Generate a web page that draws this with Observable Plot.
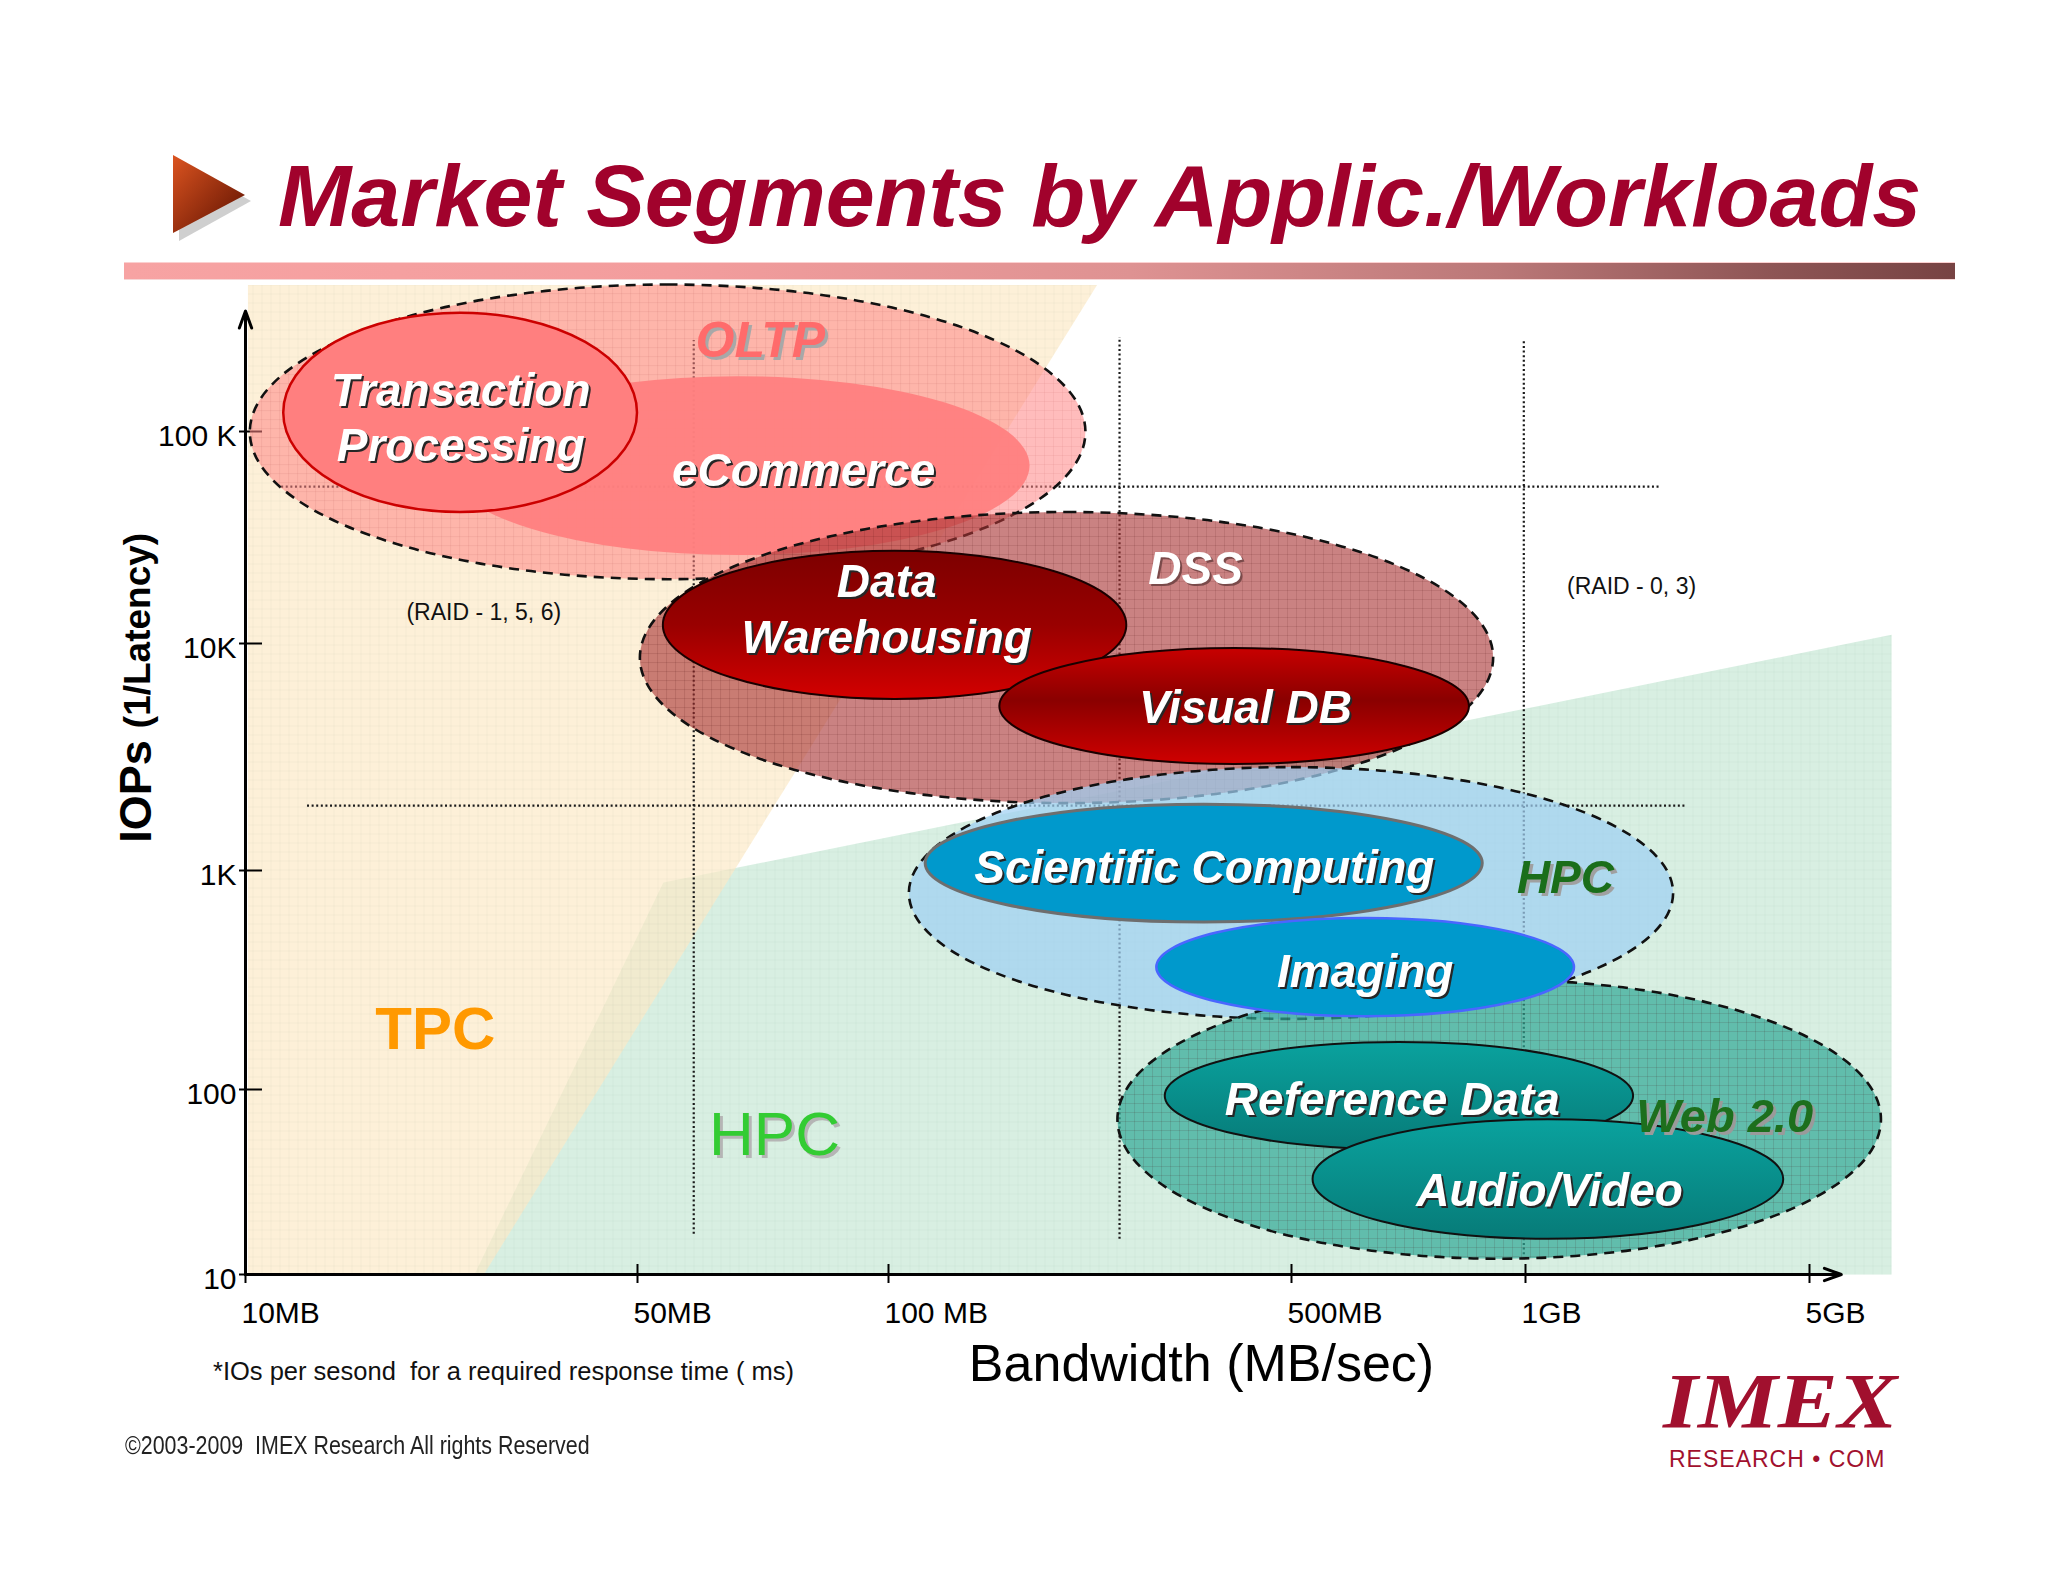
<!DOCTYPE html>
<html>
<head>
<meta charset="utf-8">
<script src="https://cdn.jsdelivr.net/npm/d3@7"></script>
<script src="https://cdn.jsdelivr.net/npm/@observablehq/plot@0.6"></script>
<style>
  html, body { margin: 0; padding: 0; background: #fff; }
  #page { position: relative; width: 2048px; height: 1582px; overflow: hidden; font-family: "Liberation Sans", Arial, sans-serif; }
  #title { position: absolute; left: 278px; top: 152px; margin: 0; font-size: 88px; line-height: 88px; font-weight: bold; font-style: italic; color: #a1022c; white-space: nowrap; }
  #bullet { position: absolute; left: 160px; top: 145px; }
  #bar { position: absolute; left: 124px; top: 263px; width: 1831px; height: 16px;
         background: linear-gradient(to right, #f7a3a3 0%, #f39d9d 30%, #de9292 55%, #bb7878 75%, #8e5555 90%, #774343 100%);
         box-shadow: 0 -1px 0 #fbd0d0, 0 1px 0 #f6d6d6; }
  #chart { position: absolute; left: 0; top: 284px; }
  #note { position: absolute; left: 213px; top: 1358px; font-size: 25.5px; line-height: 26px; white-space: pre; color: #111; }
  #copy { position: absolute; left: 125px; top: 1432px; font-size: 25.5px; line-height: 26px; white-space: pre; color: #222; transform: scaleX(0.84); transform-origin: left top; }
  #logo { position: absolute; left: 1663px; top: 1367px; font-family: "Liberation Serif", "DejaVu Serif", serif; font-size: 78px; line-height: 68px; height: 68px; font-weight: bold; font-style: italic; color: #a1102e; transform: scaleX(1.15); transform-origin: left top; }
  #logosub { position: absolute; left: 1669px; top: 1448px; font-size: 23px; line-height: 22px; color: #a1102e; white-space: pre; letter-spacing: 1px; }
</style>
</head>
<body>
<svg width="0" height="0" style="position:absolute">
  <defs>
    <pattern id="gridDark" width="9" height="9" patternUnits="userSpaceOnUse">
      <path d="M9 0H0V9" fill="none" stroke="rgba(60,0,0,0.22)" stroke-width="1"/>
    </pattern>
    <pattern id="gridWarm" width="9" height="9" patternUnits="userSpaceOnUse">
      <path d="M9 0H0V9" fill="none" stroke="rgba(170,40,40,0.13)" stroke-width="1"/>
    </pattern>
    <pattern id="gridFaint" width="9" height="9" patternUnits="userSpaceOnUse">
      <path d="M9 0H0V9" fill="none" stroke="rgba(0,60,40,0.06)" stroke-width="1"/>
    </pattern>
    <linearGradient id="redA" x1="0" y1="0" x2="0" y2="1">
      <stop offset="0" stop-color="#7d0000"/>
      <stop offset="0.5" stop-color="#990000"/>
      <stop offset="1" stop-color="#d40000"/>
    </linearGradient>
    <linearGradient id="redB" x1="0" y1="0" x2="0" y2="1">
      <stop offset="0" stop-color="#c80000"/>
      <stop offset="0.45" stop-color="#8a0000"/>
      <stop offset="1" stop-color="#d00000"/>
    </linearGradient>
    <linearGradient id="teal" x1="0" y1="0" x2="0" y2="1">
      <stop offset="0" stop-color="#0aa29e"/>
      <stop offset="1" stop-color="#077b78"/>
    </linearGradient>
    <linearGradient id="tri" x1="0" y1="0" x2="1" y2="1">
      <stop offset="0" stop-color="#dc5420"/>
      <stop offset="1" stop-color="#5a0f00"/>
    </linearGradient>
  </defs>
</svg>
<div id="page">
  <svg id="bullet" width="100" height="100">
    <polygon points="19,16 91,56 19,96" fill="#cfcfcf"/>
    <polygon points="13,10 85,50 13,88" fill="url(#tri)"/>
  </svg>
  <div id="title">Market Segments by Applic./Workloads</div>
  <div id="bar"></div>
  <div id="chart"></div>
  <div id="note">*IOs per sesond  for a required response time ( ms)</div>
  <div id="copy">©2003-2009  IMEX Research All rights Reserved</div>
  <div id="logo">IMEX</div>
  <div id="logosub">RESEARCH • COM</div>
</div>
<script>
// ---------------- data ----------------
// Axis ticks
const bwTicks = [10, 50, 100, 500, 1000, 5000];
const bwTickLabels = ["10MB", "50MB", "100 MB", "500MB", "1GB", "5GB"];
const iopsTicks = [10, 100, 1000, 10000, 100000];
const iopsTickLabels = ["10", "100", "1K", "10K", "100 K"];

// Market segments (drawing order), bandwidth range MB/s and IOPs range
const segmentNames = ["OLTP", "eCommerce", "Transaction\nProcessing", "DSS", "Data\nWarehousing", "Visual DB",
                      "HPC", "Web 2.0", "Scientific Computing", "Imaging", "Reference Data", "Audio/Video"];
const bwLow    = [10.2, 22.8, 11.7, 50.4, 53.7, 156, 108.7, 250, 116, 292, 302, 533];
const bwHigh   = [220, 176, 50, 910, 259, 847, 2315, 7550, 881, 1320, 1845, 4320];
const iopsLow  = [20000, 26000, 41500, 1970, 5670, 2930, 209, 12.1, 579, 215, 47.2, 15.5];
const iopsHigh = [540000, 188000, 390000, 41500, 27200, 9510, 2840, 315, 1950, 604, 164, 68.7];
const labelBw   = [70.2, 79.1, 24.2, 341, 99.5, 416, 1254, 3092, 353, 622, 674, 1146];
const labelIops = [295000, 66900, 120000, 23100, 14800, 5330, 949, 74.1, 1052, 353, 90.5, 29.3];

// Background regions (boundary vertices: bandwidth, IOPs)
const tpcBoundaryBw   = [10.1, 10.1, 230, 26.6];
const tpcBoundaryIops = [10, 540000, 540000, 10];
const hpcBoundaryBw   = [25.6, 53.7, 8000, 8000];
const hpcBoundaryIops = [10, 881, 11000, 10];
const regionNames = ["TPC", "HPC"];
const regionLabelBw = [21.8, 73];
const regionLabelIops = [188, 56.9];

// RAID notes
const raidNotes = ["(RAID - 1, 5, 6)", "(RAID - 0, 3)"];
const raidBw = [26.6, 1824];
const raidIops = [14000, 18600];

// Dotted dividers
const vDividerBw = [58.4, 251.6, 995];
const vDividerIopsLow = [16.5, 15.5, 12.8];
const vDividerIopsHigh = [285000, 295000, 285000];
const hDividerIops = [55000, 1930];
const hDividerBwLow = [11.6, 12.9];
const hDividerBwHigh = [2138, 2477];

// Axis extents
const axisTopIops = 400000;
const axisEndBw = 6000;

// ---------------- styles ----------------
const whiteLabel = {text: "#fff", shadow: "#262626", size: 46, offset: 2.5};
const look = {
  "OLTP": {fill: "#ff8585", fillOpacity: 0.55, dashed: true, pattern: "url(#gridWarm)", text: "#ff6b6b", shadow: "#a8a8a8", size: 50, offset: 3},
  "eCommerce": {fill: "#ff8080", fillOpacity: 0.95, stroke: "none", ...whiteLabel},
  "Transaction\nProcessing": {fill: "#ff7f7f", stroke: "#cc0000", strokeWidth: 2.5, ...whiteLabel},
  "DSS": {fill: "#a93535", fillOpacity: 0.62, dashed: true, pattern: "url(#gridDark)", text: "#fff", shadow: "#7a4a4a", size: 46, offset: 2.5},
  "Data\nWarehousing": {fill: "url(#redA)", stroke: "#1a0000", strokeWidth: 2, ...whiteLabel},
  "Visual DB": {fill: "url(#redB)", stroke: "#1a0000", strokeWidth: 2, ...whiteLabel},
  "HPC": {fill: "#9fd0f2", fillOpacity: 0.72, dashed: true, pattern: null, text: "#1a6e1a", shadow: "#a0a0a0", size: 46, offset: 3},
  "Web 2.0": {fill: "#2fa896", fillOpacity: 0.7, dashed: true, pattern: "url(#gridDark)", text: "#1d6f1d", shadow: "#9a9a9a", size: 47, offset: 3},
  "Scientific Computing": {fill: "#0099cc", stroke: "#6e6e6e", strokeWidth: 3, ...whiteLabel},
  "Imaging": {fill: "#0099cc", stroke: "#4a66ff", strokeWidth: 2.5, ...whiteLabel},
  "Reference Data": {fill: "url(#teal)", stroke: "#111", strokeWidth: 2, ...whiteLabel},
  "Audio/Video": {fill: "url(#teal)", stroke: "#111", strokeWidth: 2, ...whiteLabel}
};
const shadowOf = (color, off) => `drop-shadow(${off}px ${off}px 0px ${color})`;

// ---------------- tables ----------------
const segments = segmentNames.map((name, i) => ({
  name, bwLow: bwLow[i], bwHigh: bwHigh[i], iopsLow: iopsLow[i], iopsHigh: iopsHigh[i],
  labelBw: labelBw[i], labelIops: labelIops[i]
}));
const tpcRegion = tpcBoundaryBw.map((bw, i) => ({bw, iops: tpcBoundaryIops[i]}));
const hpcRegion = hpcBoundaryBw.map((bw, i) => ({bw, iops: hpcBoundaryIops[i]}));
const regionLabels = regionNames.map((name, i) => ({name, bw: regionLabelBw[i], iops: regionLabelIops[i]}));
const raid = raidNotes.map((t, i) => ({t, bw: raidBw[i], iops: raidIops[i]}));
const vDividers = vDividerBw.map((bw, i) => ({bw, lo: vDividerIopsLow[i], hi: vDividerIopsHigh[i]}));
const hDividers = hDividerIops.map((iops, i) => ({iops, lo: hDividerBwLow[i], hi: hDividerBwHigh[i]}));
const bwTickTable = bwTicks.map((v, i) => ({v, label: bwTickLabels[i]}));
const iopsTickTable = iopsTicks.map((v, i) => ({v, label: iopsTickLabels[i]}));

// ---------------- marks ----------------
const marks = [];
// background regions
marks.push(Plot.line(hpcRegion, {x: "bw", y: "iops", fill: "#cbead8", fillOpacity: 0.75, stroke: "none"}));
marks.push(Plot.line(hpcRegion, {x: "bw", y: "iops", fill: "url(#gridFaint)", stroke: "none"}));
marks.push(Plot.line(tpcRegion, {x: "bw", y: "iops", fill: "#fce9c7", fillOpacity: 0.7, stroke: "none"}));
marks.push(Plot.line(tpcRegion, {x: "bw", y: "iops", fill: "url(#gridFaint)", stroke: "none"}));

// dotted dividers
const dots = {stroke: "#1a1a1a", strokeWidth: 2.2, strokeDasharray: "2,2.6"};
marks.push(Plot.ruleX(vDividers, {x: "bw", y1: "lo", y2: "hi", ...dots}));
marks.push(Plot.ruleY(hDividers, {y: "iops", x1: "lo", x2: "hi", ...dots}));

// region labels
marks.push(Plot.text([regionLabels[0]], {x: "bw", y: "iops", text: "name", fill: "#ff9900", fontSize: 60, fontWeight: "bold"}));
marks.push(Plot.text([regionLabels[1]], {x: "bw", y: "iops", text: "name", fill: "#33cc33", fontSize: 62, imageFilter: shadowOf("#b5b5b5", 3)}));

// axes
marks.push(Plot.axisX({ticks: bwTicks, tickFormat: () => "", tickSize: 19, tickPadding: 0,
  dy: -10, stroke: "#000", strokeWidth: 2, label: null}));
marks.push(Plot.text(bwTickTable, {x: "v", text: "label", frameAnchor: "bottom", lineAnchor: "top", textAnchor: "start",
  dx: -4, dy: 27, fontSize: 30, fill: "#000"}));
marks.push(Plot.axisY({ticks: iopsTicks, tickFormat: () => "", tickSize: 23, tickPadding: 0,
  dx: 17, stroke: "#000", strokeWidth: 2, label: null}));
marks.push(Plot.text(iopsTickTable, {y: "v", text: "label", frameAnchor: "left", lineAnchor: "middle", textAnchor: "end",
  dx: -9, dy: 5, fontSize: 30, fill: "#000"}));
marks.push(Plot.arrow([{x1: 10, y1: 10, x2: 10, y2: axisTopIops}], {x1: "x1", y1: "y1", x2: "x2", y2: "y2", stroke: "#000", strokeWidth: 3, headLength: 9, headAngle: 40}));
marks.push(Plot.arrow([{x1: 10, y1: 10, x2: axisEndBw, y2: 10}], {x1: "x1", y1: "y1", x2: "x2", y2: "y2", stroke: "#000", strokeWidth: 3, headLength: 9, headAngle: 40}));

// ellipses
for (const s of segments) {
  const L = look[s.name];
  const box = {x1: "bwLow", x2: "bwHigh", y1: "iopsLow", y2: "iopsHigh", rx: 5000, ry: 5000};
  marks.push(Plot.rect([s], {...box, fill: L.fill, fillOpacity: L.fillOpacity ?? 1,
    stroke: L.dashed ? "none" : L.stroke, strokeWidth: L.strokeWidth ?? 0}));
  if (L.pattern) marks.push(Plot.rect([s], {...box, fill: L.pattern, stroke: "none"}));
  if (L.dashed) marks.push(Plot.rect([s], {...box, fill: "none", stroke: "#111", strokeWidth: 2.6, strokeDasharray: "10,7"}));
}

// ellipse labels (one text each, with a drop shadow)
for (const s of segments) {
  const L = look[s.name];
  marks.push(Plot.text([s], {x: "labelBw", y: "labelIops", text: "name", fontSize: L.size, fontWeight: "bold",
    fontStyle: "italic", lineHeight: 1.2, fill: L.text, imageFilter: shadowOf(L.shadow, L.offset)}));
}

// RAID notes
marks.push(Plot.text(raid, {x: "bw", y: "iops", text: "t", fontSize: 23, fill: "#111"}));

// axis titles
marks.push(Plot.text(["Bandwidth (MB/sec)"], {frameAnchor: "bottom", text: d => d, lineAnchor: "middle", textAnchor: "middle", dx: 113.5, dy: 89.4, fontSize: 52, fill: "#000"}));
marks.push(Plot.text(["IOPs"], {frameAnchor: "left", text: d => d, rotate: -90, lineAnchor: "middle", textAnchor: "middle", dx: -109.4, dy: 12, fontSize: 45, fontWeight: "bold", fill: "#000"}));
marks.push(Plot.text(["(1/Latency)"], {frameAnchor: "left", text: d => d, rotate: -90, lineAnchor: "middle", textAnchor: "middle", dx: -107, dy: -149, fontSize: 37, fontWeight: "bold", fill: "#000"}));

const chart = Plot.plot({
  width: 2048,
  height: 1116,
  marginLeft: 245,
  marginRight: 118,
  marginTop: 0,
  marginBottom: 126,
  x: {type: "log", domain: [10, 50, 100, 500, 1000, 5000, 10000], range: [245, 637, 888, 1291, 1525, 1809, 1930]},
  y: {type: "log", domain: [10, 100, 1000, 10000, 100000, 1000000], range: [990, 805, 586, 359, 147, -53]},
  style: {fontFamily: "'Liberation Sans', Arial, sans-serif", fontSize: "30px", background: "transparent", overflow: "visible", color: "#000"},
  marks
});
document.getElementById("chart").appendChild(chart);
</script>
</body>
</html>
